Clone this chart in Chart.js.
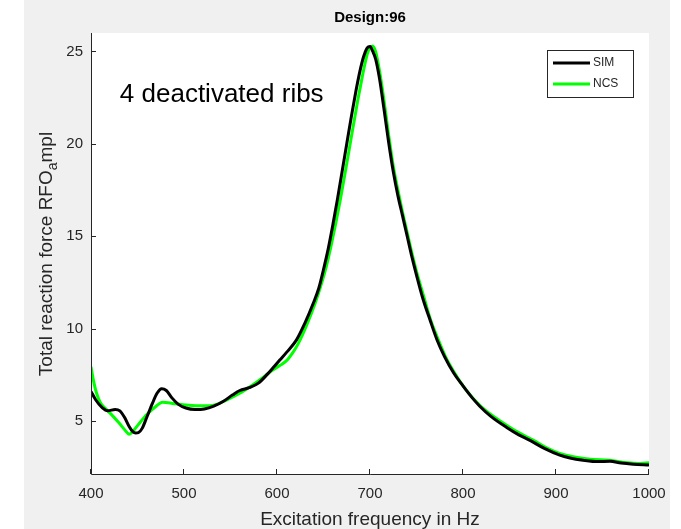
<!DOCTYPE html>
<html>
<head>
<meta charset="utf-8">
<script src="https://cdn.jsdelivr.net/npm/chart.js@4.4.1/dist/chart.umd.min.js"></script>
<style>
html,body{margin:0;padding:0;background:#ffffff;}
#wrap{width:681px;height:529px;}
</style>
</head>
<body>
<div id="wrap"><canvas id="c" width="681" height="529"></canvas></div>
<script>
// ---- data ----
const chartTitle = "Design:96";
const annotationText = "4 deactivated ribs";
const xTitle = "Excitation frequency in Hz";
const yTitleMain = "Total reaction force RFO";
const yTitleSub = "a";
const yTitleEnd = "mpl";
const xTicks = [400, 500, 600, 700, 800, 900, 1000];
const yTicks = [5, 10, 15, 20, 25];
const seriesNames = ["SIM", "NCS"];

const freqSIM = [400,405,412,418,426,431,436,441,445,448,451,455,460,466,471,476,481,487,494,502,512,522,532,542,552,560,570,580,590,597,603,610,621,630,639,645,650,655,660,665,670,675,680,685,689,693,697,700,703,706,710,715,720,725,730,735,740,745,750,757,765,772,780,790,800,810,818,830,847,860,872,888,904,915,929,945,958,970,983,1000];
const valSIM  = [6.6,6.15,5.72,5.55,5.62,5.55,5.2,4.7,4.42,4.35,4.37,4.6,5.2,5.95,6.5,6.75,6.65,6.25,5.9,5.7,5.62,5.65,5.8,6.05,6.4,6.65,6.8,7.05,7.55,7.95,8.3,8.7,9.39,10.3,11.37,12.2,13.2,14.3,15.6,17.0,18.5,20.0,21.5,22.9,23.9,24.7,25.2,25.27,25.0,24.6,23.6,21.9,20.1,18.5,17.2,16.1,15.0,13.9,12.9,11.6,10.4,9.4,8.5,7.6,6.9,6.25,5.8,5.25,4.65,4.25,3.95,3.5,3.15,3.0,2.88,2.8,2.82,2.72,2.66,2.62];

const freqNCS = [400,403,406,410,415,420,430,438,441,444,450,460,470,477,490,505,520,533,545,560,573,585,595,603,610,617,623,632,641,647,653,658,663,668,673,678,683,687,691,694,697,700,703,706,709,712,716,720,725,730,735,740,745,750,758,765,773,781,791,803,818,830,840,857,876,890,904,920,937,958,975,990,1000];
const valNCS  = [7.94,7.1,6.5,6.0,5.7,5.45,4.9,4.42,4.28,4.38,4.75,5.35,5.8,6.02,5.93,5.85,5.82,5.87,6.12,6.5,6.92,7.35,7.75,8.0,8.25,8.7,9.2,10.2,11.37,12.3,13.36,14.45,15.65,16.95,18.35,19.8,21.25,22.4,23.45,24.2,24.85,25.2,25.3,25.0,24.3,23.4,22.0,20.5,18.8,17.5,16.3,15.2,14.1,13.1,11.7,10.5,9.45,8.5,7.6,6.7,5.85,5.35,5.0,4.45,3.95,3.55,3.25,3.05,2.93,2.88,2.75,2.7,2.74];

const seriesColors = ["#000000", "#00ff00"];

// ---- chart ----
const FONT = "'Liberation Sans', Arial, Helvetica, sans-serif";
const AXCOL = "#262626";

const decor = {
  id: 'decor',
  beforeDraw(chart) {
    const ctx = chart.ctx, a = chart.chartArea;
    ctx.save();
    ctx.fillStyle = '#ffffff';
    ctx.fillRect(0, 0, chart.width, chart.height);
    ctx.fillStyle = '#f0f0f0';
    ctx.fillRect(24, 0, 646, chart.height);
    ctx.fillStyle = '#ffffff';
    ctx.fillRect(a.left, a.top, a.right - a.left, a.bottom - a.top);
    ctx.restore();
  },
  afterDraw(chart) {
    const ctx = chart.ctx, a = chart.chartArea;
    const xs = chart.scales.x, ys = chart.scales.y;
    ctx.save();
    // axes lines
    ctx.strokeStyle = AXCOL;
    ctx.lineWidth = 1;
    ctx.beginPath();
    ctx.moveTo(a.left + 0.5, a.top);
    ctx.lineTo(a.left + 0.5, a.bottom + 0.5);
    ctx.lineTo(a.right, a.bottom + 0.5);
    ctx.stroke();
    // inward ticks
    ctx.beginPath();
    xTicks.forEach(v => {
      const px = Math.round(xs.getPixelForValue(v)) - 0.5;
      ctx.moveTo(px, a.bottom);
      ctx.lineTo(px, a.bottom - 5);
    });
    yTicks.forEach(v => {
      const py = Math.round(ys.getPixelForValue(v)) + 0.5;
      ctx.moveTo(a.left, py);
      ctx.lineTo(a.left + 5, py);
    });
    ctx.stroke();
    // title
    ctx.fillStyle = '#000000';
    ctx.font = "bold 15px " + FONT;
    ctx.textAlign = 'center';
    ctx.textBaseline = 'middle';
    ctx.fillText(chartTitle, (a.left + a.right) / 2, 18);
    // x title
    ctx.fillStyle = AXCOL;
    ctx.font = "19px " + FONT;
    ctx.fillText(xTitle, (a.left + a.right) / 2, 520);
    // y title with subscript
    ctx.save();
    ctx.translate(52, 254);
    ctx.rotate(-Math.PI / 2);
    ctx.textBaseline = 'alphabetic';
    ctx.textAlign = 'left';
    const mainFont = "19px " + FONT, subFont = "14px " + FONT;
    ctx.font = mainFont;
    const w1 = ctx.measureText(yTitleMain).width;
    const w3 = ctx.measureText(yTitleEnd).width;
    ctx.font = subFont;
    const w2 = ctx.measureText(yTitleSub).width;
    const total = w1 + w2 + w3;
    let x0 = -total / 2;
    ctx.font = mainFont;
    ctx.fillText(yTitleMain, x0, 0);
    ctx.font = subFont;
    ctx.fillText(yTitleSub, x0 + w1, 5);
    ctx.font = mainFont;
    ctx.fillText(yTitleEnd, x0 + w1 + w2, 0);
    ctx.restore();
    // annotation
    ctx.fillStyle = '#000000';
    ctx.font = "26px " + FONT;
    ctx.textAlign = 'left';
    ctx.textBaseline = 'middle';
    ctx.fillText(annotationText, xs.getPixelForValue(431), ys.getPixelForValue(22.65));
    // legend
    const lx = 547, ly = 50, lw = 86, lh = 47;
    ctx.fillStyle = '#ffffff';
    ctx.fillRect(lx, ly, lw, lh);
    ctx.strokeStyle = AXCOL;
    ctx.lineWidth = 1;
    ctx.strokeRect(lx + 0.5, ly + 0.5, lw, lh);
    ctx.font = "12px " + FONT;
    ctx.textBaseline = 'middle';
    chart.data.datasets.forEach((ds, i) => {
      const yy = ly + 13 + i * 21;
      ctx.strokeStyle = ds.borderColor;
      ctx.lineWidth = 3;
      ctx.beginPath();
      ctx.moveTo(lx + 6, yy);
      ctx.lineTo(lx + 43, yy);
      ctx.stroke();
      ctx.fillStyle = AXCOL;
      ctx.fillText(ds.label, lx + 46, yy);
    });
    ctx.restore();
  }
};

new Chart(document.getElementById('c'), {
  type: 'line',
  data: {
    datasets: [
      {
        label: seriesNames[0],
        data: freqSIM.map((f, i) => ({x: f, y: valSIM[i]})),
        borderColor: seriesColors[0],
        borderWidth: 3,
        pointRadius: 0,
        cubicInterpolationMode: 'monotone',
        fill: false
      },
      {
        label: seriesNames[1],
        data: freqNCS.map((f, i) => ({x: f, y: valNCS[i]})),
        borderColor: seriesColors[1],
        borderWidth: 3,
        pointRadius: 0,
        cubicInterpolationMode: 'monotone',
        fill: false
      }
    ]
  },
  options: {
    responsive: false,
    animation: false,
    devicePixelRatio: 1,
    layout: {padding: {left: 0, top: 33, right: 32, bottom: 0}},
    plugins: {legend: {display: false}, title: {display: false}, tooltip: {enabled: false}},
    scales: {
      x: {
        type: 'linear',
        min: 400, max: 1000,
        grid: {display: false, drawTicks: false},
        border: {display: false},
        afterBuildTicks: s => { s.ticks = xTicks.map(v => ({value: v})); },
        afterFit: s => { s.height = 55; },
        ticks: {color: AXCOL, font: {family: FONT, size: 15}, padding: 11, maxRotation: 0, autoSkip: false,
                callback: v => String(v)}
      },
      y: {
        type: 'linear',
        min: 2.13, max: 26,
        grid: {display: false, drawTicks: false},
        border: {display: false},
        afterBuildTicks: s => { s.ticks = yTicks.map(v => ({value: v})); },
        afterFit: s => { s.width = 91; },
        ticks: {color: AXCOL, font: {family: FONT, size: 15}, padding: 8, autoSkip: false,
                callback: v => String(v)}
      }
    }
  },
  plugins: [decor]
});
</script>
</body>
</html>
